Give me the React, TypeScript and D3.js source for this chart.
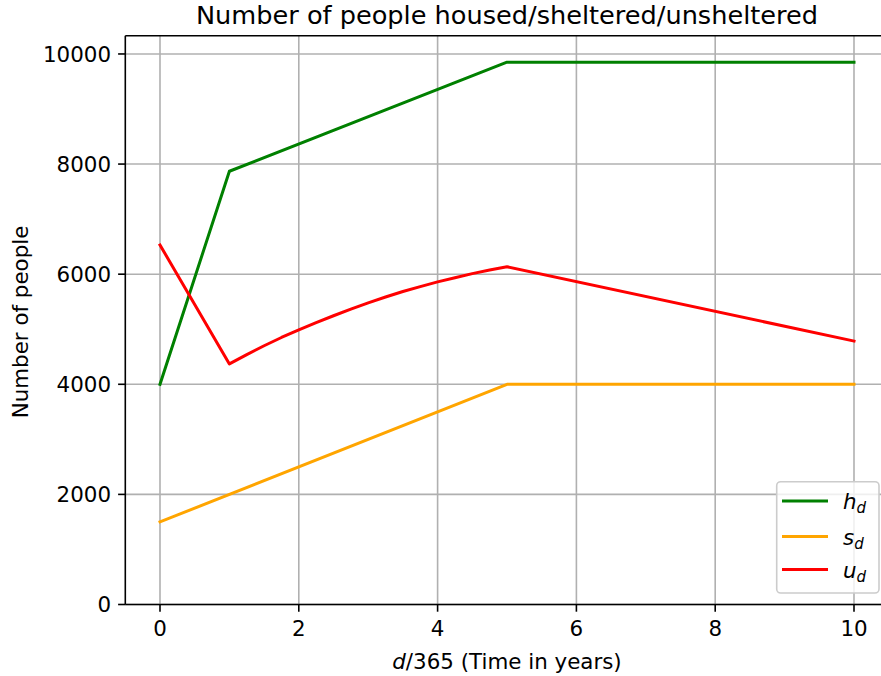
import React from 'react';
import * as d3 from 'd3';

// chart data
const hYears = [0, 1, 5, 10];
const hValues = [4000, 7870, 9850, 9850];
const sYears = [0, 5, 10];
const sValues = [1500, 4000, 4000];
const uYears = [0, 1, 1.25, 1.5, 1.75, 2, 2.25, 2.5, 2.75, 3, 3.25, 3.5, 3.75, 4, 4.25, 4.5, 4.75, 5, 10];
const uValues = [6530, 4370, 4540, 4700, 4850, 4990, 5120, 5245, 5365, 5480, 5585, 5685, 5775, 5860, 5935, 6010, 6075, 6135, 4785];

const xTicks = [0, 2, 4, 6, 8, 10];
const yTicks = [0, 2000, 4000, 6000, 8000, 10000];

const series = [
    { key: 'h', years: hYears, values: hValues, color: '#008000' },
    { key: 's', years: sYears, values: sValues, color: '#ffa500' },
    { key: 'u', years: uYears, values: uValues, color: '#ff0000' },
];

const W = 881;
const H = 676;
const FONT = '"DejaVu Sans", sans-serif';
const FS = 21.4;

const App = () => {
    const x = d3.scaleLinear().domain([-0.5, 10.5]).range([125.3, 888.7]);
    const y = d3.scaleLinear().domain([0, 10330]).range([604.5, 35.8]);
    const [x0, x1] = x.range();
    const [yb, yt] = y.range();

    const line = d3.line<[number, number]>()
        .x(d => x(d[0]))
        .y(d => y(d[1]));

    // legend
    const legX = 776.7, legY = 481.7, legW = 102.3, legH = 111.3;
    const legRows = [501, 536.5, 569.5];

    return (
        <svg width={W} height={H} style={{ position: 'absolute', left: 0, top: 0, background: '#fff' }}
            fontFamily={FONT}>
            <defs>
                <clipPath id="plot">
                    <rect x={x0} y={yt} width={x1 - x0} height={yb - yt} />
                </clipPath>
            </defs>
            <rect width={W} height={H} fill="#fff" />

            {/* grid */}
            <g stroke="#b0b0b0" strokeWidth={1.6}>
                {xTicks.map(t => (
                    <line key={'gx' + t} x1={x(t)} x2={x(t)} y1={yb} y2={yt} />
                ))}
                {yTicks.map(t => (
                    <line key={'gy' + t} x1={x0} x2={x1} y1={y(t)} y2={y(t)} />
                ))}
            </g>

            {/* series */}
            <g clipPath="url(#plot)" fill="none" strokeWidth={3} strokeLinejoin="round" strokeLinecap="square">
                {series.map(s => (
                    <path key={s.key} d={line(s.years.map((yr, i) => [yr, s.values[i]] as [number, number])) || ''}
                        stroke={s.color} />
                ))}
            </g>

            {/* spines */}
            <g stroke="#000" strokeWidth={1.6} fill="none">
                <line x1={x0} x2={x0} y1={yb} y2={yt} />
                <line x1={x0} x2={x1} y1={yb} y2={yb} />
                <line x1={x0} x2={x1} y1={yt} y2={yt} />
                <line x1={x1} x2={x1} y1={yb} y2={yt} />
            </g>

            {/* x axis */}
            <g fontSize={FS} textAnchor="middle" fill="#000">
                {xTicks.map(t => (
                    <g key={'xt' + t}>
                        <line x1={x(t)} x2={x(t)} y1={yb} y2={yb + 7.2} stroke="#000" strokeWidth={1.6} />
                        <text x={x(t)} y={635.5}>{t}</text>
                    </g>
                ))}
            </g>
            <text x={(x0 + x1) / 2} y={668.5} fontSize={FS} textAnchor="middle">
                <tspan fontStyle="italic">d</tspan>/365 (Time in years)
            </text>

            {/* y axis */}
            <g fontSize={FS} textAnchor="end" fill="#000">
                {yTicks.map(t => (
                    <g key={'yt' + t}>
                        <line x1={x0 - 7.2} x2={x0} y1={y(t)} y2={y(t)} stroke="#000" strokeWidth={1.6} />
                        <text x={111} y={y(t)} dy="0.36em">{t}</text>
                    </g>
                ))}
            </g>
            <text transform="translate(28,322) rotate(-90)" fontSize={FS} textAnchor="middle">
                Number of people
            </text>

            {/* title */}
            <text x={(x0 + x1) / 2} y={24} fontSize={25.6} textAnchor="middle">
                Number of people housed/sheltered/unsheltered
            </text>

            {/* legend */}
            <rect x={legX} y={legY} width={legW} height={legH} rx={4} fill="#fff" fillOpacity={0.8}
                stroke="#cccccc" strokeWidth={1.6} />
            {series.map((s, i) => (
                <g key={'leg' + s.key}>
                    <line x1={782} x2={828} y1={legRows[i]} y2={legRows[i]} stroke={s.color} strokeWidth={3} />
                    <text x={843} y={legRows[i] + 8} fontSize={FS} fontStyle="italic">
                        {s.key}
                        <tspan fontSize={15} dy={4}>d</tspan>
                    </text>
                </g>
            ))}
        </svg>
    );
};

export default App;
